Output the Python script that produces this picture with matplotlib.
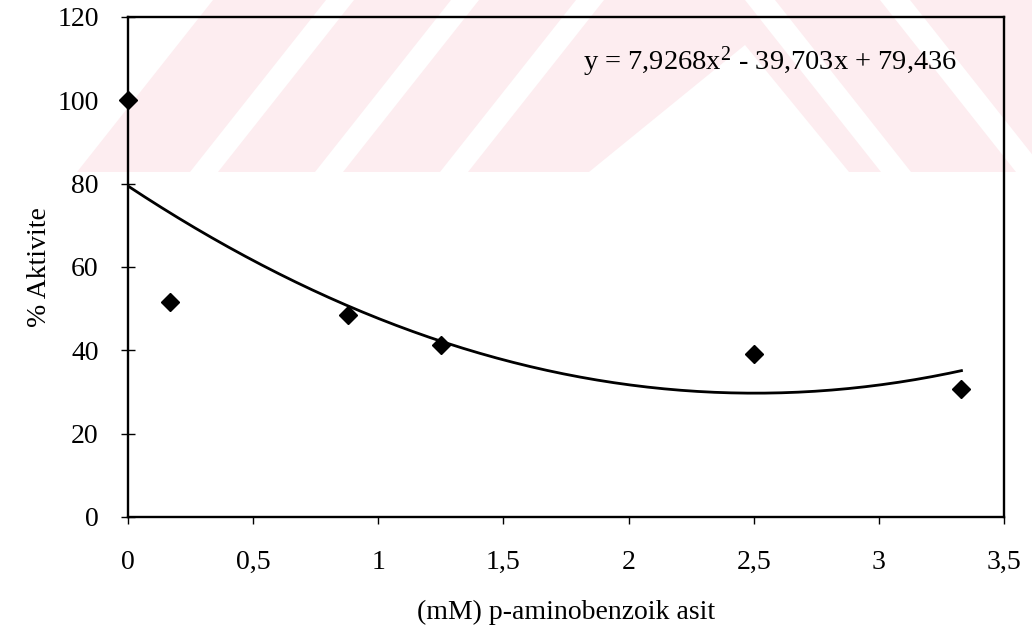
import matplotlib.pyplot as plt
import numpy as np
from matplotlib.patches import Polygon

plt.rcParams['font.family'] = ['Liberation Serif', 'DejaVu Serif']
plt.rcParams['mathtext.fontset'] = 'custom'
plt.rcParams['mathtext.rm'] = 'Liberation Serif'
plt.rcParams['mathtext.it'] = 'Liberation Serif:italic'

# data
konsantrasyon = [0, 0.167, 0.88, 1.25, 2.5, 3.33]
aktivite = [100, 51.5, 48.5, 41.3, 39.1, 30.7]

# trend line coefficients (2nd order polynomial)
katsayi = [7.9268, -39.703, 79.436]
denklem = r"y = 7,9268x$^{\mathrm{2}}$ - 39,703x + 79,436"

x_ticks = [0, 0.5, 1, 1.5, 2, 2.5, 3, 3.5]
x_labels = ["0", "0,5", "1", "1,5", "2", "2,5", "3", "3,5"]
y_ticks = [0, 20, 40, 60, 80, 100, 120]

W, H = 1032, 638
fig = plt.figure(figsize=(W / 100, H / 100), dpi=100)

# faint watermark of the scanned page (pixel coords, y down)
pembe = (0.992, 0.93, 0.94)
filigran = [
    ([(77, 172), (213, 0), (1032, 0), (1032, 172)], pembe),
    ([(190, 172), (218, 172), (354, 0), (326, 0)], "white"),
    ([(315, 172), (343, 172), (479, 0), (451, 0)], "white"),
    ([(440, 172), (468, 172), (604, 0), (576, 0)], "white"),
    ([(589, 172), (849, 172), (745, 45)], "white"),
    ([(745, 0), (775, 0), (911, 172), (881, 172)], "white"),
    ([(880, 0), (910, 0), (1046, 172), (1016, 172)], "white"),
]
for pts, renk in filigran:
    xy = [(px / W, 1 - py / H) for px, py in pts]
    fig.add_artist(Polygon(xy, closed=True, transform=fig.transFigure,
                           facecolor=renk, edgecolor="none", zorder=-5))

ax = fig.add_axes([128 / W, 1 - 517 / H, (1004 - 128) / W, 500 / H])
ax.set_facecolor("none")

xs = np.linspace(0, konsantrasyon[-1], 200)
ax.plot(xs, np.polyval(katsayi, xs), color="black", lw=2, zorder=2)
ax.plot(konsantrasyon, aktivite, "D", color="black", markersize=9.5, zorder=3,
        clip_on=False)

ax.set_xlim(0, 3.5)
ax.set_ylim(0, 120)
ax.set_xticks(x_ticks)
ax.set_xticklabels(x_labels)
ax.set_yticks(y_ticks)
ax.tick_params(axis="both", labelsize=20, color="black")
ax.tick_params(axis="y", direction="inout", length=10, width=1, pad=16)
ax.tick_params(axis="x", direction="out", length=5, width=1, pad=19)
for sp in ax.spines.values():
    sp.set_linewidth(1.7)

ax.set_xlabel("(mM) p-aminobenzoik asit", fontsize=20, labelpad=18)
ax.set_ylabel("% Aktivite", fontsize=20, labelpad=4)

ax.text(0.947, 0.91, denklem, transform=ax.transAxes, ha="right", va="center",
        fontsize=20.5)

fig.savefig("out.png", dpi=100)
